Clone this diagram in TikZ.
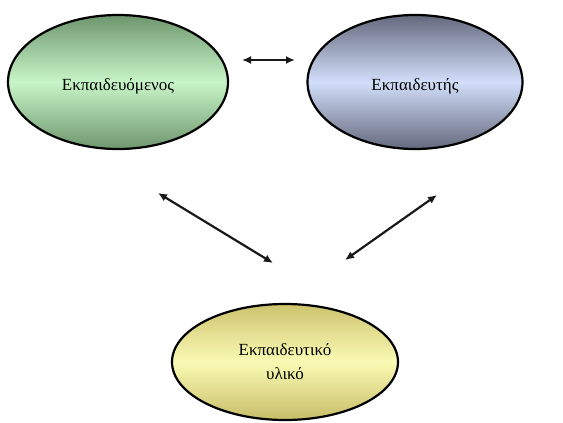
\documentclass[tikz,border=0pt]{standalone}
\usepackage{fontspec}
\setmainfont{Liberation Serif}
\usetikzlibrary{arrows.meta,shapes.geometric}
\begin{document}
\begin{tikzpicture}[x=1pt,y=-1pt,
  oval/.style={ellipse, draw=black, line width=2.2pt, inner sep=0pt, font=\fontsize{17}{24}\selectfont, align=center},
  lowtext/.style={text height=20pt, text depth=4pt},
  link/.style={{Latex[length=9pt,width=8pt]}-{Latex[length=9pt,width=8pt]}, line width=2.2pt, black!90}]
\useasboundingbox (0,0) rectangle (563,423);
\node[oval, lowtext, minimum width=220pt, minimum height=134pt,
  top color={rgb,255:red,110;green,150;blue,110}, bottom color={rgb,255:red,110;green,150;blue,110}, middle color={rgb,255:red,200;green,245;blue,200}]
  (stud) at (118,82) {Εκπαιδευόμενος};
\node[oval, lowtext, minimum width=215pt, minimum height=134pt,
  top color={rgb,255:red,100;green,105;blue,125}, bottom color={rgb,255:red,100;green,105;blue,125}, middle color={rgb,255:red,210;green,222;blue,250}]
  (teach) at (415,82) {Εκπαιδευτής};
\node[oval, minimum width=226pt, minimum height=116pt,
  top color={rgb,255:red,205;green,195;blue,110}, bottom color={rgb,255:red,200;green,190;blue,105}, middle color={rgb,255:red,250;green,250;blue,180}]
  (mat) at (285,362) {Εκπαιδευτικό\\υλικό};
\coordinate (h1) at (242,60);
\coordinate (h2) at (295,60);
\coordinate (l1) at (158,193);
\coordinate (l2) at (273,263);
\coordinate (r1) at (437,195);
\coordinate (r2) at (345,260);
\draw[link] (h1) -- (h2);
\draw[link] (l1) -- (l2);
\draw[link] (r1) -- (r2);
\end{tikzpicture}
\end{document}
